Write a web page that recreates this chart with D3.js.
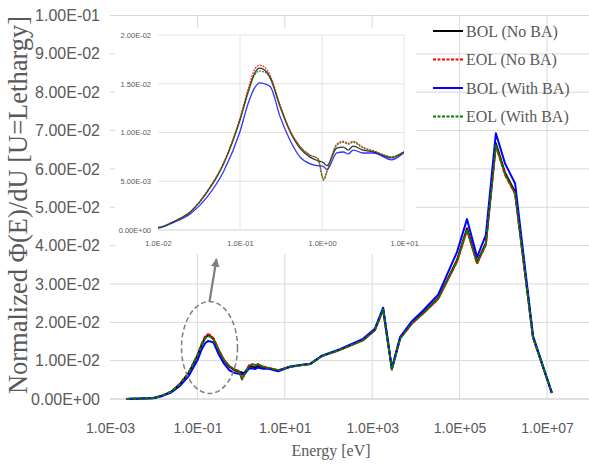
<!DOCTYPE html>
<meta charset="utf-8">
<head>
<script src="https://d3js.org/d3.v7.min.js"></script>
<style>
  body { margin: 0; background: #fff; }
</style>
</head>
<body>
<svg id="chart" width="589" height="467"></svg>

<script>
// log10 of energy in eV for each group point
var logEnergy = [-2.62, -2.3, -2.0, -1.8, -1.6, -1.4, -1.2, -1.0, -0.9, -0.82, -0.76, -0.70, -0.63,
  -0.51, -0.39, -0.27, -0.15, -0.05, 0.02, 0.06, 0.18, 0.26, 0.32, 0.38, 0.50, 0.63, 0.85, 1.0,
  1.12, 1.35, 1.58, 1.85, 2.26, 2.79, 3.06, 3.25, 3.45, 3.64, 3.91, 4.16, 4.51, 4.94, 5.17, 5.40,
  5.60, 5.83, 6.04, 6.27, 6.68, 7.11];

var bolNoBA = [0.00003, 0.0001, 0.00025, 0.0009, 0.0019, 0.0039, 0.0068, 0.0113, 0.0142, 0.0161, 0.0166, 0.0164, 0.0156,
  0.0126, 0.0101, 0.0084, 0.0075, 0.0071, 0.0069, 0.0066, 0.0084, 0.0085, 0.0082, 0.0086, 0.0082, 0.0080, 0.0074, 0.0080,
  0.0084, 0.0088, 0.0091, 0.0112, 0.0128, 0.0154, 0.0180, 0.0234, 0.0078, 0.0159, 0.0198, 0.0224, 0.0263, 0.0362, 0.0445, 0.0357,
  0.0406, 0.0667, 0.0590, 0.0540, 0.0161, 0.0016];

var eolNoBA = [0.00003, 0.0001, 0.00025, 0.0009, 0.0019, 0.0040, 0.0069, 0.0115, 0.0145, 0.0165, 0.0169, 0.0167, 0.0158,
  0.0128, 0.0102, 0.0086, 0.0077, 0.0073, 0.0052, 0.0060, 0.0088, 0.0091, 0.0089, 0.0091, 0.0085, 0.0081, 0.0075, 0.0080,
  0.0084, 0.0088, 0.0091, 0.0112, 0.0128, 0.0153, 0.0179, 0.0233, 0.0077, 0.0158, 0.0197, 0.0222, 0.0261, 0.0358, 0.0440, 0.0353,
  0.0402, 0.0660, 0.0584, 0.0535, 0.0160, 0.0016];

var bolWithBA = [0.00003, 0.0001, 0.0002, 0.0008, 0.0017, 0.0034, 0.0060, 0.0101, 0.0130, 0.0146, 0.0151, 0.0150, 0.0147,
  0.0116, 0.0092, 0.0075, 0.0068, 0.0066, 0.0065, 0.0062, 0.0079, 0.0080, 0.0078, 0.0082, 0.0079, 0.0079, 0.0072, 0.0079,
  0.0084, 0.0089, 0.0092, 0.0113, 0.0130, 0.0157, 0.0183, 0.0238, 0.0080, 0.0162, 0.0203, 0.0230, 0.0272, 0.0383, 0.0469, 0.0370,
  0.0427, 0.0693, 0.0614, 0.0562, 0.0165, 0.0016];

var eolWithBA = [0.00003, 0.0001, 0.00025, 0.0009, 0.0019, 0.0039, 0.0068, 0.0113, 0.0141, 0.0159, 0.0163, 0.0162, 0.0155,
  0.0127, 0.0102, 0.0086, 0.0077, 0.0073, 0.0051, 0.0060, 0.0087, 0.0090, 0.0088, 0.0090, 0.0084, 0.0081, 0.0075, 0.0080,
  0.0084, 0.0088, 0.0091, 0.0112, 0.0128, 0.0153, 0.0179, 0.0233, 0.0077, 0.0158, 0.0197, 0.0222, 0.0261, 0.0358, 0.0441, 0.0354,
  0.0403, 0.0662, 0.0586, 0.0536, 0.0160, 0.0016];

var seriesNames = ["BOL (No BA)", "EOL (No BA)", "BOL (With BA)", "EOL (With BA)"];
var seriesColors = ["#000000", "#ff0000", "#0000ff", "#008000"];
var seriesDash = [null, "4,2", null, "4,2"];
var seriesValues = [bolNoBA, eolNoBA, bolWithBA, eolWithBA];

var xTicks = [1e-3, 1e-1, 1e1, 1e3, 1e5, 1e7];
var yTicks = d3.range(0, 11).map(function(i) { return i / 100; });
var insetXTicks = [1e-2, 1e-1, 1e0, 1e1];
var insetYTicks = [0, 0.005, 0.01, 0.015, 0.02];

var energy = logEnergy.map(function(l) { return Math.pow(10, l); });
var series = seriesValues.map(function(vals, k) {
  return {
    name: seriesNames[k], color: seriesColors[k], dash: seriesDash[k],
    points: vals.map(function(v, i) { return [energy[i], v]; })
  };
});

// excel style exponent label, e.g. 1.00E-02
function expFmt(v, dec) {
  var parts = v.toExponential(dec).split("e");
  var e = +parts[1];
  return parts[0] + "E" + (e < 0 ? "-" : "+") + String(Math.abs(e)).padStart(2, "0");
}

var svg = d3.select("#chart");
var grey = "#595959";
var gridColor = "#d9d9d9";

// main scales
var x = d3.scaleLog().domain([1e-3, 1e8]).range([110, 110 + 43.7 * 11]);
var y = d3.scaleLinear().domain([0, 0.1]).range([399, 15.5]);

// grid
svg.append("g").selectAll("line.h")
  .data(yTicks.slice(1))
  .enter().append("line")
    .attr("x1", 110).attr("x2", 589)
    .attr("y1", function(d) { return y(d); })
    .attr("y2", function(d) { return y(d); })
    .attr("stroke", gridColor).attr("stroke-width", 1);

svg.append("g").selectAll("line.v")
  .data(xTicks.slice(1))
  .enter().append("line")
    .attr("x1", function(d) { return x(d); })
    .attr("x2", function(d) { return x(d); })
    .attr("y1", y(0.1)).attr("y2", y(0))
    .attr("stroke", gridColor).attr("stroke-width", 1);

svg.append("line")
  .attr("x1", 110).attr("x2", 589)
  .attr("y1", y(0)).attr("y2", y(0))
  .attr("stroke", "#bfbfbf").attr("stroke-width", 1.2);

// y axis labels
var yAxis = d3.axisLeft(y).tickValues(yTicks).tickSize(0).tickPadding(10)
  .tickFormat(function(d) { return expFmt(d, 2); });
var gy = svg.append("g").attr("transform", "translate(110,0)").call(yAxis);
gy.select(".domain").remove();
gy.selectAll("text").attr("fill", grey)
  .style("font-family", "'Liberation Sans', Arial, sans-serif").style("font-size", "16px");

// x axis labels
var xAxis = d3.axisBottom(x).tickValues(xTicks).tickSize(0).tickPadding(24)
  .tickFormat(function(d) { return expFmt(d, 1); });
var gx = svg.append("g").attr("transform", "translate(0," + y(0) + ")").call(xAxis);
gx.select(".domain").remove();
gx.selectAll("text").attr("fill", grey)
  .style("font-family", "'Liberation Sans', Arial, sans-serif").style("font-size", "14px");

// axis titles
svg.append("text")
  .attr("x", 331).attr("y", 456)
  .attr("text-anchor", "middle")
  .attr("fill", grey)
  .style("font-family", "'Liberation Serif', 'Times New Roman', serif").style("font-size", "16px")
  .text("Energy [eV]");

svg.append("text")
  .attr("transform", "translate(27,205) rotate(-90)")
  .attr("text-anchor", "middle")
  .attr("fill", grey)
  .style("font-family", "'Liberation Serif', 'Times New Roman', serif").style("font-size", "26.5px")
  .text("Normalized \u03A6(E)/dU [U=Lethargy]");

// main lines
var line = d3.line()
  .x(function(d) { return x(d[0]); })
  .y(function(d) { return y(d[1]); });

svg.append("g").selectAll("path")
  .data(series)
  .enter().append("path")
    .attr("d", function(d) { return line(d.points); })
    .attr("fill", "none")
    .attr("stroke", function(d) { return d.color; })
    .attr("stroke-width", 2)
    .attr("stroke-dasharray", function(d) { return d.dash; })
    .attr("stroke-linejoin", "round");

// ellipse + arrow pointing at the inset
svg.append("ellipse")
  .attr("cx", 209.5).attr("cy", 347.5).attr("rx", 28).attr("ry", 46)
  .attr("fill", "none").attr("stroke", "#7f7f7f")
  .attr("stroke-width", 1.5).attr("stroke-dasharray", "5,3");

svg.append("defs").append("marker")
  .attr("id", "arrow").attr("viewBox", "0 0 10 10")
  .attr("refX", 9).attr("refY", 5)
  .attr("markerWidth", 4).attr("markerHeight", 4)
  .attr("orient", "auto")
  .append("path").attr("d", "M0,0 L10,5 L0,10 z").attr("fill", "#7f7f7f");

svg.append("line")
  .attr("x1", 209.5).attr("y1", 301.5).attr("x2", 216.5).attr("y2", 259)
  .attr("stroke", "#7f7f7f").attr("stroke-width", 2.2)
  .attr("marker-end", "url(#arrow)");

// legend
var legend = svg.append("g").selectAll("g")
  .data(series)
  .enter().append("g")
    .attr("transform", function(d, i) { return "translate(433," + (31 + i * 28.5) + ")"; });
legend.append("line")
  .attr("x1", 0).attr("x2", 30)
  .attr("stroke", function(d) { return d.color; })
  .attr("stroke-width", 2)
  .attr("stroke-dasharray", function(d) { return d.dash ? "3,1.5" : null; });
legend.append("text")
  .attr("x", 33).attr("dy", "0.35em")
  .attr("fill", grey)
  .style("font-family", "'Liberation Serif', 'Times New Roman', serif").style("font-size", "16px")
  .text(function(d) { return d.name; });

// ---- inset ----
var inset = svg.append("g");
inset.append("rect")
  .attr("x", 115).attr("y", 28).attr("width", 301).attr("height", 226)
  .attr("fill", "#fff");

var xi = d3.scaleLog().domain([1e-2, 1e1]).range([158, 404]);
var yi = d3.scaleLinear().domain([0, 0.02]).range([230, 35]);

inset.selectAll("line.h")
  .data(insetYTicks.slice(1))
  .enter().append("line")
    .attr("x1", 158).attr("x2", 404)
    .attr("y1", function(d) { return yi(d); })
    .attr("y2", function(d) { return yi(d); })
    .attr("stroke", "#e4e4e4");
inset.selectAll("line.v")
  .data(insetXTicks.slice(1))
  .enter().append("line")
    .attr("x1", function(d) { return xi(d); })
    .attr("x2", function(d) { return xi(d); })
    .attr("y1", 35).attr("y2", 230)
    .attr("stroke", "#e4e4e4");
inset.append("line")
  .attr("x1", 158).attr("x2", 404).attr("y1", 230).attr("y2", 230)
  .attr("stroke", "#d0d0d0");

var gyi = inset.append("g").attr("transform", "translate(158,0)")
  .call(d3.axisLeft(yi).tickValues(insetYTicks).tickSize(0).tickPadding(7)
    .tickFormat(function(d) { return expFmt(d, 2); }));
gyi.select(".domain").remove();
gyi.selectAll("text").attr("fill", grey)
  .style("font-family", "'Liberation Sans', Arial, sans-serif").style("font-size", "7.5px");

var gxi = inset.append("g").attr("transform", "translate(0,230)")
  .call(d3.axisBottom(xi).tickValues(insetXTicks).tickSize(0).tickPadding(11)
    .tickFormat(function(d) { return expFmt(d, 1); }));
gxi.select(".domain").remove();
gxi.selectAll("text").attr("fill", grey)
  .style("font-family", "'Liberation Sans', Arial, sans-serif").style("font-size", "7.5px");

svg.select("defs").append("clipPath").attr("id", "insetClip")
  .append("rect").attr("x", 158).attr("y", 30).attr("width", 246).attr("height", 205);

var lineInset = d3.line()
  .curve(d3.curveMonotoneX)
  .x(function(d) { return xi(d[0]); })
  .y(function(d) { return yi(d[1]); });

inset.append("g").attr("clip-path", "url(#insetClip)")
  .selectAll("path")
  .data(series)
  .enter().append("path")
    .attr("d", function(d) { return lineInset(d.points); })
    .attr("fill", "none")
    .attr("stroke", function(d) { return d.color; })
    .attr("stroke-opacity", 0.8)
    .attr("stroke-width", 1.3)
    .attr("stroke-dasharray", function(d) { return d.dash ? "2,1" : null; });
</script>
</body>
